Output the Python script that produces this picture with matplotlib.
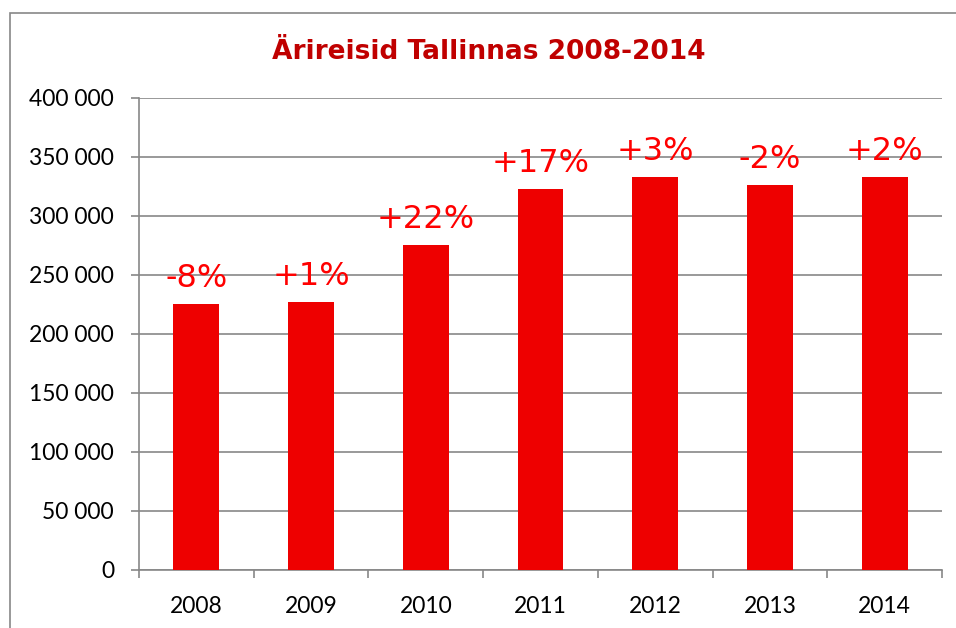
import matplotlib
matplotlib.use("Agg")
import matplotlib.pyplot as plt
from matplotlib.patches import Rectangle
from matplotlib.ticker import FuncFormatter, MultipleLocator

# Data
years = ["2008", "2009", "2010", "2011", "2012", "2013", "2014"]
trips = [225000, 227000, 275000, 323000, 333000, 326000, 333000]
changes = ["-8%", "+1%", "+22%", "+17%", "+3%", "-2%", "+2%"]

TITLE = "Ärireisid Tallinnas 2008-2014"
GRID_GREY = "#878787"
BAR_RED = "#EE0000"
LABEL_RED = "#FF0000"
TITLE_RED = "#C00000"

W, H, DPI = 956, 628, 100

fig = plt.figure(figsize=(W / DPI, H / DPI), dpi=DPI)
ax = fig.add_axes([139 / W, 1 - 569.5 / H, (942 - 139) / W, (569.5 - 98) / H])

x = list(range(len(years)))
ax.bar(x, trips, width=0.4, color=BAR_RED, zorder=3)

# percentage change labels above bars
for xi, v, lab in zip(x, trips, changes):
    ax.annotate(lab, (xi, v), xytext=(0, 12.3), textcoords="offset points",
                ha="center", va="baseline", fontsize=23, color=LABEL_RED,
                family="DejaVu Sans", zorder=4)

ax.set_xlim(-0.5, len(years) - 0.5)
ax.set_ylim(0, 400000)
ax.yaxis.set_major_locator(MultipleLocator(50000))
ax.yaxis.set_major_formatter(
    FuncFormatter(lambda v, _: f"{int(v):,}".replace(",", " ")))
ax.grid(axis="y", color=GRID_GREY, linewidth=1.2, zorder=0)

ax.set_xticks(x)
ax.set_xticklabels(years)
ax.set_xticks([i - 0.5 for i in range(len(years) + 1)], minor=True)
ax.tick_params(axis="x", which="major", length=0, pad=19)
ax.tick_params(axis="x", which="minor", length=6, width=1.2, color=GRID_GREY)
ax.tick_params(axis="y", length=6, width=1.2, color=GRID_GREY, pad=12)
for lbl in ax.get_xticklabels() + ax.get_yticklabels():
    lbl.set_family("Lato")
    lbl.set_fontsize(16.5)
    lbl.set_color("black")

for side in ["top", "right"]:
    ax.spines[side].set_visible(False)
for side in ["left", "bottom"]:
    ax.spines[side].set_color(GRID_GREY)
    ax.spines[side].set_linewidth(1.2)

fig.text(489 / W, 1 - 59 / H, TITLE, ha="center", va="baseline",
         fontsize=19, fontweight="bold", color=TITLE_RED, family="DejaVu Sans")

# chart frame (runs off the right and bottom edges as in the reference)
fig.patches.append(Rectangle((10 / W, -0.1), 1.2, 1.1 - 13 / H,
                             transform=fig.transFigure, fill=False,
                             edgecolor=GRID_GREY, linewidth=1.2))

fig.savefig("out.png", dpi=DPI)
